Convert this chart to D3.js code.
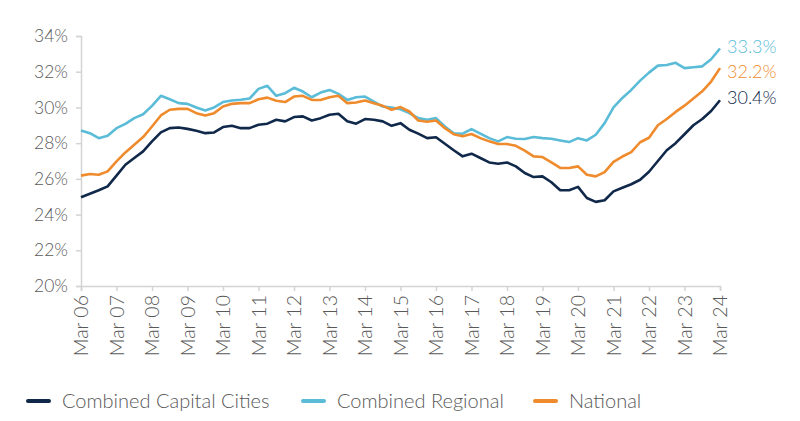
<!DOCTYPE html>
<html>
<head>
<meta charset="utf-8">
<script src="https://cdn.jsdelivr.net/npm/d3@7"></script>
<style>
  html, body { margin: 0; padding: 0; background: #fff; }
  svg { display: block; font-family: Lato, "Open Sans", sans-serif; }
</style>
</head>
<body>
<svg id="chart" width="800" height="421"></svg>
<script>
// Quarterly observations, Mar 2006 .. Mar 2024
const yearLabels = ["Mar 06","Mar 07","Mar 08","Mar 09","Mar 10","Mar 11","Mar 12","Mar 13","Mar 14","Mar 15","Mar 16","Mar 17","Mar 18","Mar 19","Mar 20","Mar 21","Mar 22","Mar 23","Mar 24"];
const yTicks = [20, 22, 24, 26, 28, 30, 32, 34];

const capitalCities = [
  24.97, 25.17, 25.36, 25.58,
  26.18, 26.79, 27.17, 27.54,
  28.10, 28.60, 28.84, 28.88,
  28.80, 28.69, 28.56, 28.60,
  28.90, 28.97, 28.84, 28.84,
  29.03, 29.09, 29.31, 29.22,
  29.46, 29.50, 29.27, 29.40,
  29.59, 29.65, 29.22, 29.09,
  29.35, 29.31, 29.22, 28.97,
  29.12, 28.75, 28.53, 28.28,
  28.33, 27.97, 27.60, 27.26,
  27.41, 27.17, 26.92, 26.85,
  26.92, 26.70, 26.33, 26.10,
  26.14, 25.81, 25.36, 25.36,
  25.55, 24.93, 24.71, 24.80,
  25.30, 25.50, 25.70, 25.95,
  26.40, 27.00, 27.60, 28.00,
  28.50, 29.00, 29.35, 29.80,
  30.40
];
const regional = [
  28.71, 28.56, 28.28, 28.41,
  28.84, 29.08, 29.40, 29.62,
  30.09, 30.65, 30.46, 30.24,
  30.20, 30.00, 29.83, 30.00,
  30.30, 30.39, 30.43, 30.50,
  31.04, 31.21, 30.65, 30.80,
  31.10, 30.89, 30.57, 30.83,
  30.98, 30.76, 30.42, 30.57,
  30.61, 30.33, 30.05, 30.00,
  29.90, 29.68, 29.40, 29.31,
  29.40, 28.93, 28.55, 28.53,
  28.79, 28.53, 28.28, 28.10,
  28.34, 28.25, 28.23, 28.34,
  28.28, 28.25, 28.15, 28.06,
  28.28, 28.15, 28.47, 29.12,
  30.00, 30.53, 30.98, 31.50,
  31.95, 32.34, 32.38, 32.50,
  32.20, 32.25, 32.30, 32.70,
  33.30
];
const national = [
  26.18, 26.27, 26.23, 26.42,
  26.98, 27.48, 27.91, 28.34,
  28.93, 29.55, 29.87, 29.92,
  29.92, 29.68, 29.55, 29.68,
  30.05, 30.20, 30.24, 30.24,
  30.46, 30.55, 30.37, 30.30,
  30.61, 30.65, 30.42, 30.42,
  30.57, 30.65, 30.24, 30.28,
  30.39, 30.24, 30.09, 29.87,
  30.02, 29.77, 29.27, 29.20,
  29.27, 28.84, 28.50, 28.38,
  28.51, 28.28, 28.10, 27.95,
  27.95, 27.85, 27.58, 27.26,
  27.22, 26.92, 26.61, 26.61,
  26.70, 26.23, 26.14, 26.38,
  26.95, 27.25, 27.50, 28.05,
  28.30, 29.00, 29.35, 29.75,
  30.10, 30.50, 30.90, 31.45,
  32.20
];

const seriesNames = ["Combined Capital Cities", "Combined Regional", "National"];
const seriesColors = ["#10284a", "#5bbcd7", "#ef8b2c"];
const seriesData = [capitalCities, regional, national];

const svg = d3.select("#chart");
const mLeft = 81, mRight = 720, mTop = 36, mBottom = 286;

const x = d3.scaleLinear().domain([0, capitalCities.length - 1]).range([mLeft, mRight]);
const y = d3.scaleLinear().domain([20, 34]).range([mBottom, mTop]);

const axisColor = "#d4d4d4";
const textColor = "#595959";

// Y axis
const yAxis = svg.append("g")
  .attr("transform", `translate(${mLeft},0)`)
  .call(d3.axisLeft(y).tickValues(yTicks).tickFormat(d => d + "%").tickSize(5).tickPadding(8));
yAxis.select(".domain").attr("stroke", axisColor).attr("stroke-width", 1.5);
yAxis.selectAll(".tick line").attr("stroke", axisColor).attr("stroke-width", 1.5);
yAxis.selectAll(".tick text")
  .attr("fill", textColor)
  .style("font-size", "17.5px")
  .style("font-family", "Lato, sans-serif")
  .style("font-weight", 300);

// X axis
const xAxis = svg.append("g")
  .attr("transform", `translate(0,${mBottom})`)
  .call(d3.axisBottom(x)
    .tickValues(yearLabels.map((d, i) => i * 4))
    .tickFormat((d) => yearLabels[d / 4])
    .tickSize(5).tickPadding(8));
xAxis.select(".domain").attr("stroke", axisColor).attr("stroke-width", 1.5);
xAxis.selectAll(".tick line").attr("stroke", axisColor).attr("stroke-width", 1.5);
xAxis.selectAll(".tick text")
  .attr("fill", textColor)
  .style("font-size", "19.5px")
  .style("font-family", "Lato, sans-serif")
  .style("font-weight", 300)
  .attr("transform", "rotate(-90)")
  .attr("text-anchor", "end")
  .attr("x", -9)
  .attr("y", 0)
  .attr("dy", "0.35em");

// Lines
const line = d3.line().x((d, i) => x(i)).y(d => y(d));
seriesData.forEach((vals, k) => {
  svg.append("path")
    .datum(vals)
    .attr("fill", "none")
    .attr("stroke", seriesColors[k])
    .attr("stroke-width", 2.6)
    .attr("stroke-linejoin", "round")
    .attr("d", line);
});

// End labels
const endOrder = [1, 2, 0];
const endY = [47, 72, 98];
endOrder.forEach((k, j) => {
  const vals = seriesData[k];
  svg.append("text")
    .attr("x", x(vals.length - 1) + 7)
    .attr("y", endY[j])
    .attr("dy", "0.35em")
    .attr("fill", seriesColors[k])
    .style("font-size", "18px")
    .style("font-family", "Lato, sans-serif")
    .style("font-weight", 300)
    .text(vals[vals.length - 1].toFixed(1) + "%");
});

// Legend
const legendX = [28, 303, 535];
const lg = svg.append("g").attr("transform", "translate(0,401)");
seriesNames.forEach((name, k) => {
  lg.append("line")
    .attr("x1", legendX[k]).attr("x2", legendX[k] + 21)
    .attr("y1", 0).attr("y2", 0)
    .attr("stroke", seriesColors[k])
    .attr("stroke-width", 4)
    .attr("stroke-linecap", "round");
  lg.append("text")
    .attr("x", legendX[k] + 34)
    .attr("y", 0)
    .attr("dy", "0.35em")
    .attr("fill", textColor)
    .style("font-size", "20px")
    .style("font-family", "Lato, sans-serif")
    .style("font-weight", 300)
    .text(name);
});
</script>
</body>
</html>
